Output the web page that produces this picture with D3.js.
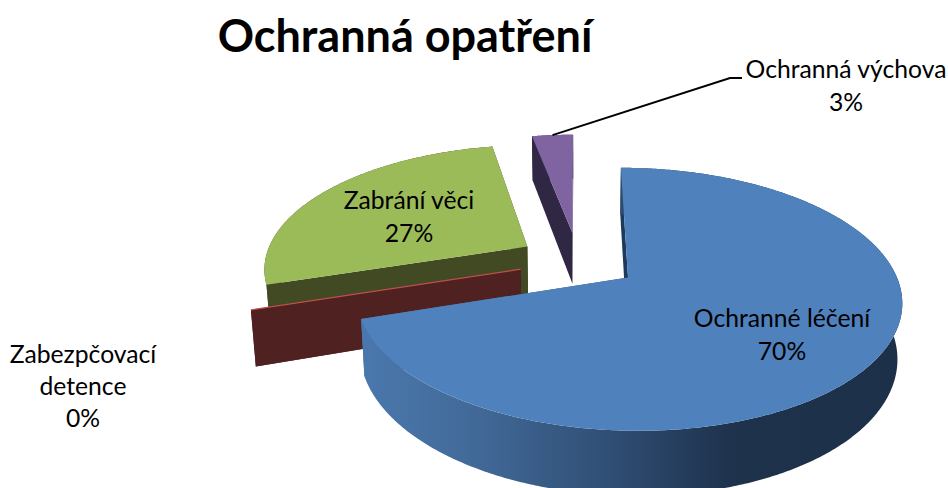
<!DOCTYPE html>
<html>
<head>
<meta charset="utf-8">
<script src="https://cdn.jsdelivr.net/npm/d3@7/dist/d3.min.js"></script>
<style>
html,body{margin:0;padding:0;background:#fff;overflow:hidden}
svg{display:block}
text{font-family:Lato,"Open Sans",sans-serif;fill:#000}
</style>
</head>
<body>
<svg id="c" width="948" height="488"></svg>
<script>
const title = "Ochranná opatření";
const categories = ["Ochranné léčení", "Zabezpčovací detence", "Zabrání věci", "Ochranná výchova"];
const values = [70, 0, 27, 3];
const percentLabels = ["70%", "0%", "27%", "3%"];
const explosion = [0.23, 0.227, 0.228, 0.236];
const topColors = ["#4f81bd", "#c0504d", "#9bbb59", "#8064a2"];
const sideColors = ["url(#blueSide)", "#4f2120", "#414a22", "#2f2744"];
const labelLines = [["Ochranné léčení"], ["Zabezpčovací", "detence"], ["Zabrání věci"], ["Ochranná výchova"]];
const labelAnchors = [[782, 327, 33], [83, 363, 32], [409, 209, 33], [846, 78, 33]];
const drawOrder = [3, 2, 1, 0];

const W = 948, H = 488;
const persp = 0.1627, depth = 53, lowerShrink = 0.985;
const x = d3.scaleLinear().domain([0, 1]).range([578, 841]);
const y = d3.scaleLinear().domain([0, 1]).range([260.5, 382.8]);

const svg = d3.select("#c").attr("viewBox", `0 0 ${W} ${H}`);
const grad = svg.append("defs").append("linearGradient")
  .attr("id", "blueSide").attr("gradientUnits", "userSpaceOnUse")
  .attr("x1", 362).attr("x2", 905).attr("y1", 0).attr("y2", 0);
[[0, "#4a78ad"], [0.2, "#426a99"], [0.45, "#304f75"], [0.68, "#1e324c"], [1, "#1d3049"]]
  .forEach(([o, c]) => grad.append("stop").attr("offset", o).attr("stop-color", c));

function project(X, Y, lower) {
  const s = 1 / (1 - persp * Y);
  const px = x(X * s), py = y(Y * s);
  if (!lower) return [px, py];
  return [x(0) + (px - x(0)) * lowerShrink, py + depth * s];
}

const arcs = d3.pie().sort(null).startAngle(0).endAngle(2 * Math.PI)(values);
const line = d3.line();

const slices = arcs.map((a, i) => {
  const mid = (a.startAngle + a.endAngle) / 2;
  const X0 = explosion[i] * Math.sin(mid), Y0 = -explosion[i] * Math.cos(mid);
  const at = (ang, lower) => project(X0 + Math.sin(ang), Y0 - Math.cos(ang), lower);
  const n = Math.max(1, Math.ceil((a.endAngle - a.startAngle) / 0.01));
  const angs = d3.range(n + 1).map(j => a.startAngle + (a.endAngle - a.startAngle) * j / n);
  return {
    i, mid, angs, at,
    apex: lower => project(X0, Y0, lower)
  };
});

function draw(s) {
  const side = sideColors[s.i], top = topColors[s.i];
  const a0 = s.angs[0], a1 = s.angs[s.angs.length - 1];
  // radial wall at the start of the slice
  svg.append("path")
    .attr("d", line([s.at(a0, false), s.apex(false), s.apex(true), s.at(a0, true)]) + "Z")
    .attr("fill", s.i === 0 ? "#1d3a5c" : side);
  // radial wall at the end of the slice
  svg.append("path")
    .attr("d", line([s.at(a1, false), s.apex(false), s.apex(true), s.at(a1, true)]) + "Z")
    .attr("fill", side);
  // outer curved wall
  const outer = s.angs.map(t => s.at(t, false)).concat(s.angs.slice().reverse().map(t => s.at(t, true)));
  if (values[s.i] > 0) svg.append("path").attr("d", line(outer) + "Z").attr("fill", side);
  // top surface
  const surface = [s.apex(false)].concat(s.angs.map(t => s.at(t, false)));
  svg.append("path").attr("d", line(surface) + "Z").attr("fill", top)
    .attr("stroke", values[s.i] > 0 ? "none" : top).attr("stroke-width", 1.2);
}
drawOrder.forEach(i => draw(slices[i]));

// leader line for the small slice
const pur = slices[3];
const leaderStart = pur.at(pur.mid, false);
svg.append("path")
  .attr("d", line([leaderStart, [730, 78], [742, 78]]))
  .attr("fill", "none").attr("stroke", "#000").attr("stroke-width", 2);

// title
svg.append("text").attr("x", 405).attr("y", 52).attr("text-anchor", "middle")
  .attr("font-size", 45).attr("font-weight", 700).text(title);

// data labels
categories.forEach((c, i) => {
  const [lx, ly, lh] = labelAnchors[i];
  const rows = labelLines[i].concat([percentLabels[i]]);
  rows.forEach((r, j) => {
    svg.append("text").attr("x", lx).attr("y", ly + j * lh)
      .attr("text-anchor", "middle").attr("font-size", 24.7).text(r);
  });
});
</script>
</body>
</html>
